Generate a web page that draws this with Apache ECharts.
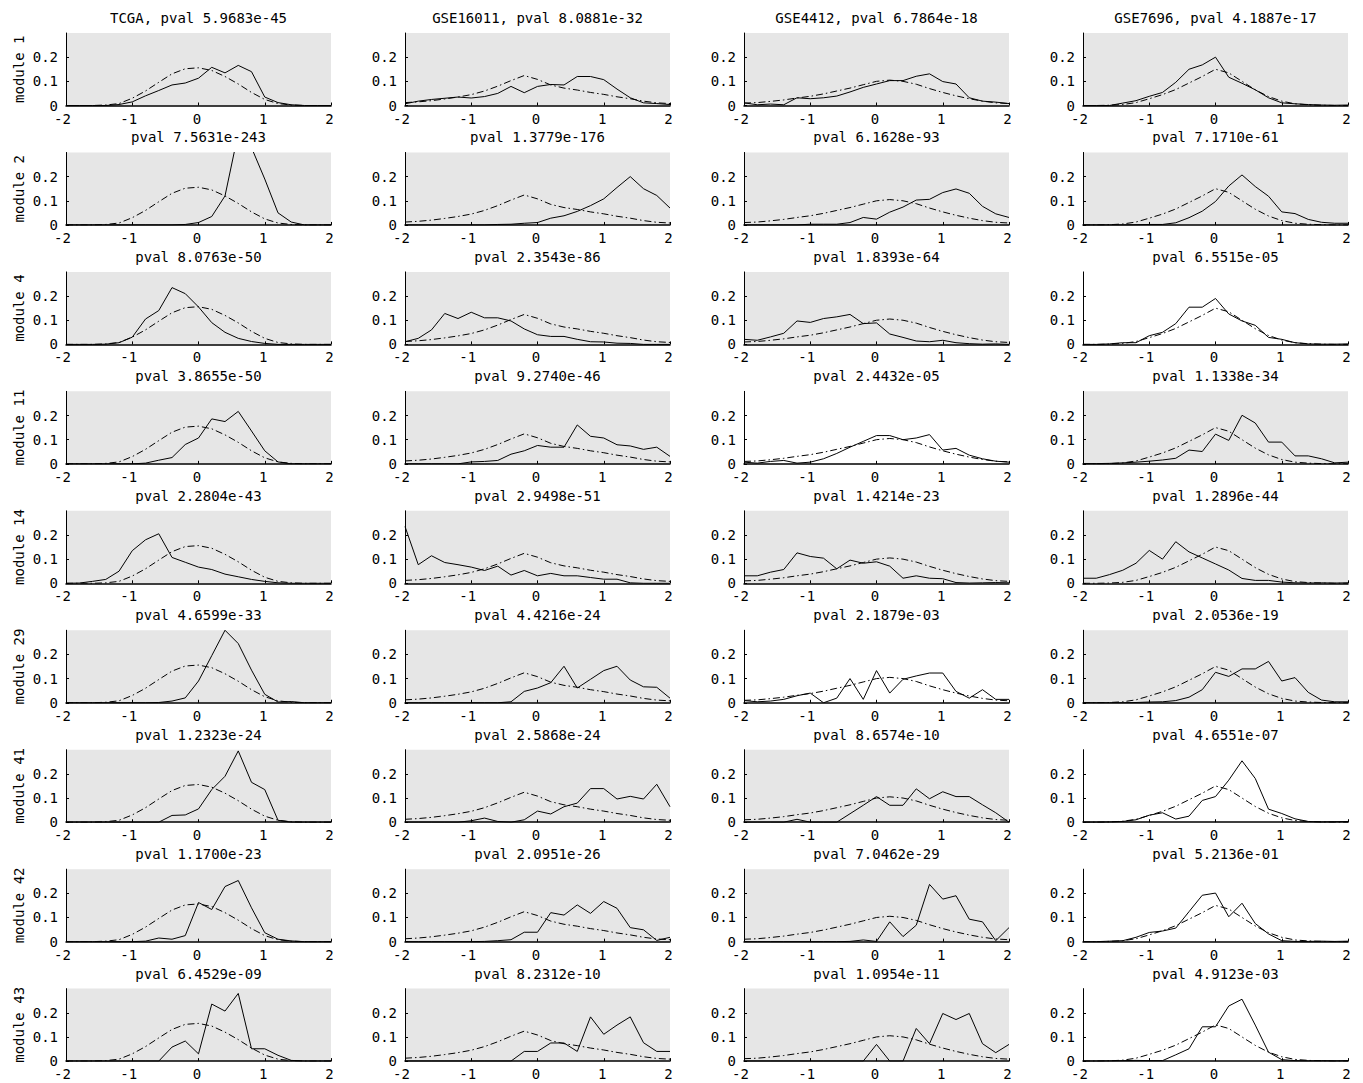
<!DOCTYPE html>
<html>
<head>
<meta charset="utf-8">
<title>Module score distributions per dataset</title>
<script src="https://cdn.jsdelivr.net/npm/echarts@6/dist/echarts.min.js"></script>
<style>
  html, body { margin: 0; padding: 0; background: #ffffff; }
  #chart { width: 1363px; height: 1083px; }
</style>
</head>
<body>
<div id="chart"></div>
<script>
// Histogram bin centres shared by every panel
const BIN_CENTERS = [-2, -1.8, -1.6, -1.4, -1.2, -1, -0.8, -0.6, -0.4, -0.2, 0,
                     0.2, 0.4, 0.6, 0.8, 1, 1.2, 1.4, 1.6, 1.8, 2];

const DATASETS = ['TCGA', 'GSE16011', 'GSE4412', 'GSE7696'];
const MODULES = ['module 1', 'module 2', 'module 4', 'module 11', 'module 14',
                 'module 29', 'module 41', 'module 42', 'module 43'];

// Background distribution of each dataset (dash-dot curve)
const BACKGROUND_TCGA = [0, 0, 0, 0.002, 0.008, 0.03, 0.06, 0.096, 0.131, 0.152, 0.156,
                         0.145, 0.12, 0.089, 0.054, 0.025, 0.008, 0.002, 0, 0, 0];
const BACKGROUND_GSE16011 = [0.012, 0.015, 0.02, 0.027, 0.035, 0.045, 0.06, 0.08, 0.103, 0.124, 0.108,
                             0.085, 0.072, 0.064, 0.054, 0.046, 0.036, 0.028, 0.018, 0.011, 0.008];
const BACKGROUND_GSE4412 = [0.01, 0.012, 0.017, 0.023, 0.031, 0.038, 0.048, 0.06, 0.072, 0.086, 0.1,
                            0.105, 0.1, 0.088, 0.07, 0.054, 0.04, 0.028, 0.018, 0.011, 0.008];
const BACKGROUND_GSE7696 = [0, 0, 0.001, 0.004, 0.012, 0.028, 0.045, 0.066, 0.093, 0.12, 0.15,
                            0.135, 0.1, 0.065, 0.037, 0.018, 0.007, 0.003, 0.001, 0, 0];

// Module-gene distributions (solid curve), one list per module, in MODULES order
const MODULE_TCGA = [
  [0, 0, 0, 0, 0.004, 0.015, 0.04, 0.062, 0.085, 0.093, 0.113, 0.158, 0.135, 0.166, 0.14, 0.035, 0.012, 0.003, 0, 0, 0],
  [0, 0, 0, 0, 0, 0, 0, 0, 0, 0.002, 0.01, 0.035, 0.12, 0.38, 0.32, 0.19, 0.05, 0.012, 0, 0, 0],
  [0, 0, 0, 0.001, 0.007, 0.03, 0.105, 0.14, 0.235, 0.21, 0.155, 0.09, 0.05, 0.025, 0.012, 0.004, 0, 0, 0, 0, 0],
  [0, 0, 0, 0, 0, 0, 0.003, 0.015, 0.026, 0.08, 0.107, 0.186, 0.175, 0.217, 0.136, 0.054, 0.008, 0, 0, 0, 0],
  [0, 0.001, 0.008, 0.016, 0.05, 0.135, 0.18, 0.205, 0.107, 0.087, 0.067, 0.057, 0.038, 0.027, 0.016, 0.008, 0.002, 0, 0, 0, 0],
  [0, 0, 0, 0, 0, 0, 0, 0.001, 0.007, 0.02, 0.09, 0.195, 0.3, 0.245, 0.135, 0.035, 0.003, 0.005, 0, 0, 0],
  [0, 0, 0, 0, 0, 0, 0, 0, 0.028, 0.03, 0.055, 0.135, 0.19, 0.295, 0.165, 0.135, 0.008, 0, 0, 0, 0],
  [0, 0, 0, 0, 0, 0, 0.002, 0.015, 0.01, 0.025, 0.162, 0.133, 0.228, 0.253, 0.14, 0.037, 0.01, 0.003, 0, 0, 0],
  [0, 0, 0, 0, 0, 0, 0, 0, 0.058, 0.083, 0.03, 0.236, 0.207, 0.28, 0.051, 0.051, 0.024, 0.003, 0, 0, 0]
];
const MODULE_GSE16011 = [
  [0.007, 0.018, 0.025, 0.03, 0.035, 0.031, 0.037, 0.05, 0.079, 0.053, 0.079, 0.087, 0.085, 0.12, 0.12, 0.107, 0.068, 0.032, 0.011, 0.008, 0.004],
  [0, 0, 0, 0, 0, 0, 0, 0.002, 0.003, 0.007, 0.01, 0.028, 0.038, 0.056, 0.08, 0.108, 0.155, 0.2, 0.15, 0.122, 0.07],
  [0.011, 0.025, 0.06, 0.128, 0.107, 0.133, 0.11, 0.11, 0.097, 0.064, 0.04, 0.033, 0.033, 0.021, 0.011, 0.01, 0.005, 0.004, 0, 0, 0],
  [0, 0, 0, 0, 0, 0.008, 0.01, 0.014, 0.04, 0.054, 0.076, 0.069, 0.069, 0.161, 0.114, 0.107, 0.079, 0.074, 0.06, 0.069, 0.031],
  [0.235, 0.077, 0.114, 0.086, 0.077, 0.067, 0.053, 0.071, 0.034, 0.053, 0.031, 0.041, 0.031, 0.031, 0.024, 0.017, 0.017, 0.002, 0, 0, 0],
  [0, 0, 0, 0, 0, 0, 0, 0, 0.004, 0.047, 0.061, 0.083, 0.151, 0.061, 0.097, 0.133, 0.151, 0.094, 0.066, 0.064, 0.019],
  [0, 0, 0, 0, 0, 0.006, 0.017, 0.003, 0, 0.01, 0.046, 0.034, 0.064, 0.079, 0.139, 0.139, 0.096, 0.107, 0.096, 0.157, 0.064],
  [0, 0, 0, 0, 0, 0, 0.001, 0.004, 0.008, 0.039, 0.039, 0.12, 0.11, 0.152, 0.117, 0.166, 0.138, 0.058, 0.049, 0.005, 0.018],
  [0, 0, 0, 0, 0, 0, 0, 0, 0, 0.04, 0.04, 0.075, 0.075, 0.04, 0.183, 0.111, 0.149, 0.183, 0.076, 0.04, 0.04]
];
const MODULE_GSE4412 = [
  [0.011, 0.003, 0.006, 0.003, 0.032, 0.028, 0.032, 0.039, 0.056, 0.075, 0.089, 0.103, 0.103, 0.121, 0.131, 0.099, 0.089, 0.032, 0.018, 0.014, 0.008],
  [0, 0, 0, 0, 0, 0.003, 0.003, 0.003, 0.01, 0.031, 0.024, 0.053, 0.074, 0.103, 0.106, 0.134, 0.149, 0.131, 0.077, 0.046, 0.031],
  [0.021, 0.017, 0.031, 0.046, 0.097, 0.091, 0.107, 0.114, 0.124, 0.086, 0.089, 0.043, 0.029, 0.014, 0.011, 0.017, 0.007, 0.003, 0.001, 0.002, 0],
  [0.007, 0.003, 0.01, 0.014, 0.003, 0.007, 0.021, 0.043, 0.069, 0.093, 0.117, 0.117, 0.1, 0.107, 0.121, 0.057, 0.064, 0.036, 0.021, 0.011, 0.007],
  [0.031, 0.031, 0.046, 0.057, 0.126, 0.111, 0.104, 0.06, 0.096, 0.083, 0.089, 0.071, 0.021, 0.031, 0.021, 0.019, 0.003, 0.001, 0.002, 0.003, 0.002],
  [0.009, 0.004, 0.007, 0.014, 0.029, 0.04, 0, 0.019, 0.1, 0.014, 0.133, 0.04, 0.097, 0.111, 0.123, 0.123, 0.047, 0.019, 0.054, 0.014, 0.014],
  [0, 0, 0, 0, 0.012, 0, 0, 0, 0.035, 0.07, 0.106, 0.07, 0.07, 0.138, 0.097, 0.126, 0.106, 0.106, 0.072, 0.039, 0],
  [0, 0, 0, 0, 0, 0, 0, 0, 0.001, 0.007, 0.001, 0.082, 0.021, 0.068, 0.237, 0.176, 0.19, 0.093, 0.082, 0.004, 0.058],
  [0, 0, 0, 0, 0, 0, 0, 0, 0, 0, 0.069, 0, 0, 0.135, 0.072, 0.197, 0.172, 0.197, 0.072, 0.035, 0.069]
];
const MODULE_GSE7696 = [
  [0, 0, 0, 0.01, 0.02, 0.038, 0.054, 0.096, 0.15, 0.168, 0.2, 0.117, 0.092, 0.065, 0.032, 0.011, 0.007, 0.004, 0.002, 0.001, 0.002],
  [0, 0, 0, 0, 0.001, 0.002, 0.002, 0.009, 0.03, 0.057, 0.097, 0.161, 0.207, 0.159, 0.119, 0.054, 0.047, 0.023, 0.011, 0.007, 0.007],
  [0, 0, 0.002, 0.007, 0.007, 0.036, 0.05, 0.086, 0.154, 0.154, 0.19, 0.126, 0.097, 0.079, 0.029, 0.021, 0.007, 0.002, 0.001, 0.001, 0.002],
  [0.001, 0.001, 0.002, 0.004, 0.007, 0.011, 0.016, 0.023, 0.057, 0.051, 0.123, 0.097, 0.201, 0.169, 0.09, 0.09, 0.033, 0.033, 0.021, 0.004, 0.007],
  [0.021, 0.021, 0.036, 0.054, 0.083, 0.136, 0.1, 0.172, 0.13, 0.105, 0.08, 0.055, 0.02, 0.012, 0.012, 0.005, 0.002, 0.001, 0.002, 0.001, 0.002],
  [0, 0, 0, 0, 0.001, 0.003, 0.004, 0.009, 0.023, 0.054, 0.126, 0.109, 0.14, 0.14, 0.171, 0.09, 0.104, 0.043, 0.011, 0.004, 0.004],
  [0, 0, 0.001, 0.003, 0.01, 0.029, 0.039, 0.013, 0.025, 0.09, 0.106, 0.174, 0.254, 0.181, 0.054, 0.036, 0.014, 0.003, 0.001, 0.002, 0.003],
  [0, 0, 0.002, 0.004, 0.018, 0.038, 0.044, 0.056, 0.124, 0.192, 0.201, 0.103, 0.159, 0.075, 0.032, 0.004, 0.001, 0.001, 0.002, 0.001, 0.002],
  [0, 0, 0.001, 0.002, 0.003, 0.002, 0.002, 0.026, 0.051, 0.142, 0.142, 0.228, 0.256, 0.149, 0.037, 0.006, 0.002, 0.001, 0.002, 0.001, 0.002]
];

// Test p-values, one per module, in MODULES order
const PVAL_TCGA = ['5.9683e-45', '7.5631e-243', '8.0763e-50', '3.8655e-50', '2.2804e-43',
                   '4.6599e-33', '1.2323e-24', '1.1700e-23', '6.4529e-09'];
const PVAL_GSE16011 = ['8.0881e-32', '1.3779e-176', '2.3543e-86', '9.2740e-46', '2.9498e-51',
                       '4.4216e-24', '2.5868e-24', '2.0951e-26', '8.2312e-10'];
const PVAL_GSE4412 = ['6.7864e-18', '6.1628e-93', '1.8393e-64', '2.4432e-05', '1.4214e-23',
                      '2.1879e-03', '8.6574e-10', '7.0462e-29', '1.0954e-11'];
const PVAL_GSE7696 = ['4.1887e-17', '7.1710e-61', '6.5515e-05', '1.1338e-34', '1.2896e-44',
                      '2.0536e-19', '4.6551e-07', '5.2136e-01', '4.9123e-03'];

// Y tick labels shown on every panel
const Y_TICKS = [0, 0.1, 0.2];

const BACKGROUNDS = [BACKGROUND_TCGA, BACKGROUND_GSE16011, BACKGROUND_GSE4412, BACKGROUND_GSE7696];
const MODULE_SERIES = [MODULE_TCGA, MODULE_GSE16011, MODULE_GSE4412, MODULE_GSE7696];
const PVALS = [PVAL_TCGA, PVAL_GSE16011, PVAL_GSE4412, PVAL_GSE7696];

// Panels below this p-value get a shaded background
const SIGNIFICANCE = 1e-8;

// Layout
const PANEL_LEFT = [66, 405, 744, 1083];
const PANEL_WIDTH = 265;
const PANEL_HEIGHT = 72.5;
const FIRST_TOP = 33;
const ROW_PITCH = 119.45;
const FONT = '"DejaVu Sans Mono", "Liberation Mono", monospace';
const SHADE = '#e6e6e6';
const DASH_DOT = [7, 3, 1.5, 3];

const toPairs = (ys) => BIN_CENTERS.map((x, i) => [x, ys[i]]);

// Tick text style; negative labels hang the minus sign to the left of the tick
const tickText = { color: '#000', fontSize: 14, lineHeight: 12, fontFamily: FONT };
const xTickRich = {
  neg: Object.assign({ padding: [0, 7, 0, 0] }, tickText),
  pos: Object.assign({ padding: [0, 3, 0, 0] }, tickText)
};
const xTickFormatter = (v) => (v < 0 ? '{neg|' : '{pos|') + v + '}';

const grids = [], xAxes = [], yAxes = [], series = [], graphics = [];

MODULES.forEach((moduleName, r) => {
  const top = FIRST_TOP + r * ROW_PITCH;
  DATASETS.forEach((dataset, c) => {
    const idx = grids.length;
    const left = PANEL_LEFT[c];
    const pval = PVALS[c][r];
    const shaded = parseFloat(pval) < SIGNIFICANCE;

    grids.push({
      left: left, top: top, width: PANEL_WIDTH, height: PANEL_HEIGHT,
      show: true, backgroundColor: shaded ? SHADE : '#ffffff', borderWidth: 0,
      containLabel: false
    });

    xAxes.push({
      gridIndex: idx, type: 'value', min: -2, max: 2, interval: 1,
      axisLine: { show: true, onZero: false, lineStyle: { color: '#000', width: 1.5 } },
      axisTick: { show: true, inside: true, length: 3, lineStyle: { color: '#000' } },
      axisLabel: Object.assign({ show: true, margin: 7, formatter: xTickFormatter, rich: xTickRich }, tickText),
      splitLine: { show: false }
    });

    yAxes.push({
      gridIndex: idx, type: 'value', min: 0, max: 0.3, interval: 0.1,
      axisLine: { show: true, onZero: false, lineStyle: { color: '#000', width: 1 } },
      axisTick: { show: true, inside: true, length: 3, customValues: Y_TICKS, lineStyle: { color: '#000' } },
      axisLabel: Object.assign({ show: true, margin: 8, customValues: Y_TICKS }, tickText),
      splitLine: { show: false }
    });

    series.push({
      type: 'line', xAxisIndex: idx, yAxisIndex: idx,
      data: toPairs(BACKGROUNDS[c]), showSymbol: false, clip: true,
      lineStyle: { color: '#000', width: 1, type: DASH_DOT },
      silent: true, z: 2
    });
    series.push({
      type: 'line', xAxisIndex: idx, yAxisIndex: idx,
      data: toPairs(MODULE_SERIES[c][r]), showSymbol: false, clip: true,
      lineStyle: { color: '#000', width: 1, type: 'solid' },
      silent: true, z: 3
    });

    graphics.push({
      type: 'text', x: left + PANEL_WIDTH / 2, y: top - 15,
      style: {
        text: (r === 0 ? dataset + ', ' : '') + 'pval ' + pval,
        fill: '#000', font: '14px ' + FONT, align: 'center', verticalAlign: 'middle'
      }
    });
  });

  graphics.push({
    type: 'text', x: 19, y: top + PANEL_HEIGHT / 2, rotation: Math.PI / 2,
    style: {
      text: moduleName, fill: '#000', font: '14px ' + FONT,
      align: 'center', verticalAlign: 'middle'
    }
  });
});

const chart = echarts.init(document.getElementById('chart'), null, { renderer: 'svg' });
chart.setOption({
  animation: false,
  backgroundColor: '#ffffff',
  grid: grids,
  xAxis: xAxes,
  yAxis: yAxes,
  series: series,
  graphic: graphics
});
</script>
</body>
</html>
